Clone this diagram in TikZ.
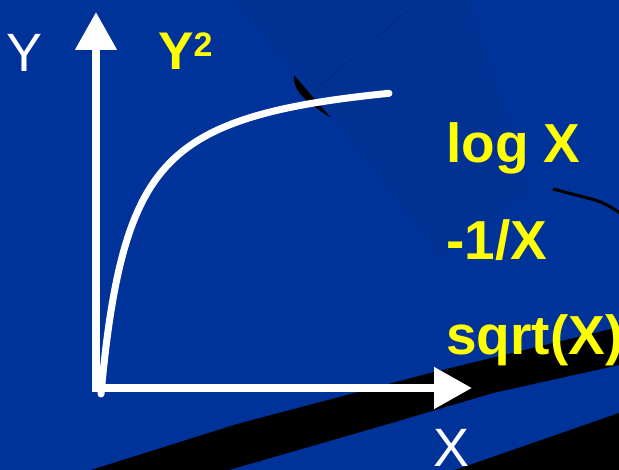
\documentclass[tikz,border=0pt]{standalone}
\usepackage{fontspec}
\setmainfont{Liberation Sans}
\usetikzlibrary{arrows.meta}
\definecolor{bgblue}{HTML}{003399}
\definecolor{darkblue}{HTML}{003193}
\definecolor{lineblue}{HTML}{002A7A}
\definecolor{lblyellow}{HTML}{FFFF00}
\tikzset{
  axisline/.style={white, line width=8pt, -{Triangle[length=38pt,width=40pt]}},
  curveline/.style={white, line width=7pt, line cap=round},
  whitelbl/.style={text=white, inner sep=0pt, anchor=base west, font=\fontsize{54}{58}\selectfont},
  yellowlbl/.style={text=lblyellow, inner sep=0pt, anchor=base west, font=\fontsize{55}{60}\selectfont\bfseries},
}
\begin{document}
\begin{tikzpicture}[x=1pt,y=-1pt]
\useasboundingbox (0,0) rectangle (619,470);
\clip (0,0) rectangle (619,470);
\fill[bgblue] (0,0) rectangle (619,470);
% subtle darker background facet
\fill[darkblue] (233,0) -- (332,117) -- (442,258) -- (530,190) -- (470,0) -- cycle;
\draw[lineblue, line width=0.7pt] (420,0) -- (313,92);
% black shapes of the background
\fill[black] (294,75) .. controls (292,90) and (305,101) .. (331,118) -- cycle;
\draw[black, line width=3pt] (553,189) -- (595,200) .. controls (606,204) .. (625,216);
\fill[black] (91,470) -- (237,424) -- (434,372) -- (619,327) -- (619,365) -- (493,393) -- (395,422) -- (229,470) -- cycle;
\fill[black] (455,470) -- (619,413) -- (619,470) -- cycle;
% axes
\coordinate (ybot) at (96,392);
\coordinate (ytop) at (96,12);
\coordinate (xstart) at (92,388);
\coordinate (xend) at (472,388);
\draw[axisline] (ybot) -- (ytop);
\draw[axisline] (xstart) -- (xend);
% curve
\draw[curveline] plot[domain=0:288, samples=120, smooth] ({101+\x}, {394-332*(\x/(\x+30))});
% labels
\node[whitelbl] (ylab) at (6,72) {Y};
\node[whitelbl] (xlab) at (433,467) {X};
\node[yellowlbl, font=\fontsize{53}{58}\selectfont\bfseries] (y2lab) at (158,70) {Y\raisebox{13pt}{\fontsize{34}{36}\selectfont 2}};
\node[yellowlbl] (logx) at (446,163) {log X};
\node[yellowlbl] (invx) at (446,260) {-1/X};
\node[yellowlbl] (sqrtx) at (446,355) {sqrt(X)};
\end{tikzpicture}
\end{document}
